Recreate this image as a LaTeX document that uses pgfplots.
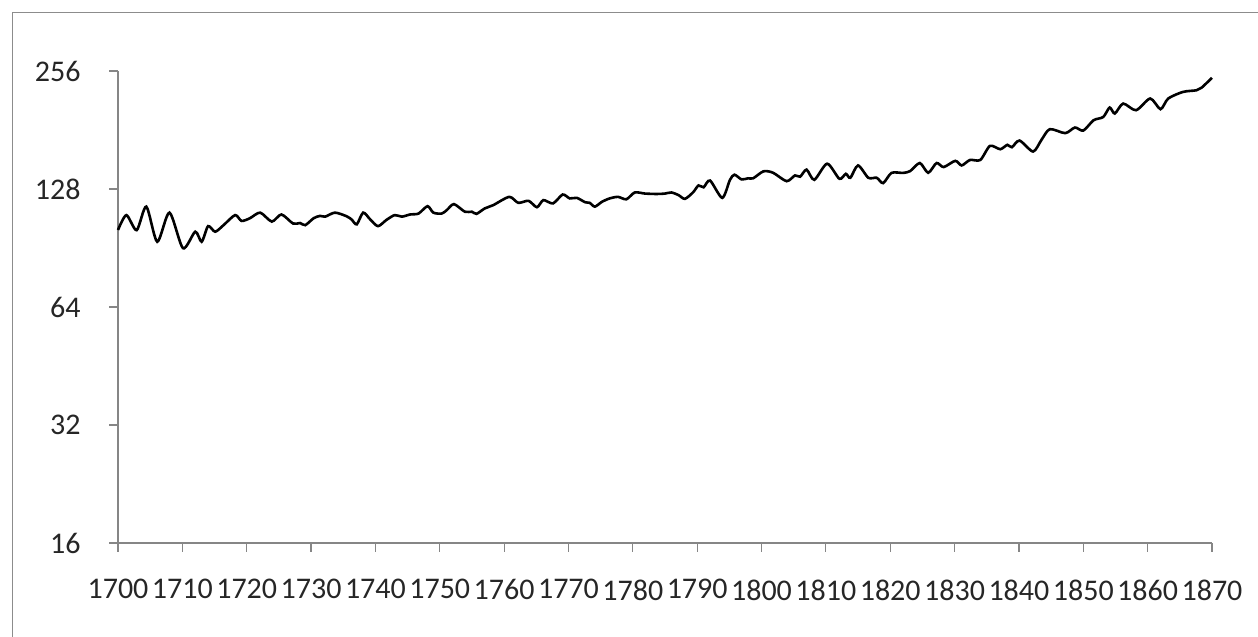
\documentclass[border=0pt]{standalone}
\usepackage{fontspec}
\setmainfont{Carlito}
\usepackage{pgfplots}
\pgfplotsset{compat=1.18}
\definecolor{axisgray}{HTML}{868686}
\definecolor{framegray}{HTML}{8C8C8C}

\pgfplotstableread{
year value
1700 100.6
1701.3 109.8
1702.9 100.5
1704.4 115.4
1706.1 93.9
1708 111.4
1710.1 90.4
1712 99.6
1713 93.9
1714 102.9
1715.1 99.6
1716.4 103.5
1718.2 109.8
1719.2 106.1
1720.5 107.8
1722.1 111.4
1723.9 105.7
1725.4 110.2
1727.2 104.5
1728.3 104.8
1729.1 103.5
1730.4 107.8
1731.4 109.3
1732.2 108.8
1733.7 111.4
1735.5 109.1
1736.3 107
1737.1 104
1738.1 111.4
1739.2 107
1740.4 102.9
1741.7 106.7
1743 109.8
1744.1 108.8
1745.4 110.2
1746.7 110.8
1748.1 115.7
1749 111.4
1750.3 110.8
1751.1 113.1
1752.2 117.1
1753.9 112
1755 112
1755.7 110.6
1757 114.2
1758.3 116.4
1760.8 122.2
1762.2 118
1763.8 119.4
1765.1 115
1766.1 119.9
1767.6 117.6
1769.1 123.9
1770.2 121.1
1771.3 121.5
1772.6 118.4
1773.3 118
1774.1 115.4
1775.2 118.7
1776.4 121.1
1777.7 122.2
1779 120.5
1780.3 125.4
1781.9 124.6
1783.7 124.3
1785 124.6
1786 125.4
1787.1 123.5
1788.1 120.8
1789.4 125.7
1790.2 130.7
1791 129.3
1792 134.5
1793.9 121.5
1795.1 135.1
1795.8 139.2
1796.9 135.4
1797.9 136.3
1798.7 136.3
1800.3 142
1801.8 140.8
1803.9 134
1805.2 138.6
1806 137.6
1807 143.4
1808.2 135.1
1810.2 148.5
1812.1 135.9
1813.1 139.9
1813.8 136.7
1815 147
1816.6 136.7
1817.9 136.7
1818.9 132.5
1820.2 140.7
1822 140.7
1823.1 142.2
1824.6 149.1
1825.9 140.8
1827.2 149.1
1828.3 145.6
1830.1 151
1831.1 147
1832.4 151.8
1834 151.8
1835.5 164.9
1837.1 161.7
1838.2 165.9
1838.9 163.6
1840.1 170.1
1842.2 159.5
1843.5 170.8
1844.8 181.9
1847.2 177.7
1848.7 183.7
1850 180.4
1851.6 191.7
1853.1 195.4
1854.1 206.5
1854.9 199.4
1856.2 211.4
1858.2 203.3
1860.4 217.8
1862 204.6
1863.2 217.8
1865.5 226.4
1867.6 228.6
1868.4 232.2
1870 246
}\series

\begin{document}
\begin{tikzpicture}
\useasboundingbox (0pt,0pt) rectangle (1258pt,637pt);
% outer chart frame (right and bottom edges fall outside the picture)
\draw[framegray, line width=1pt] (12pt,-5pt) -- (12pt,624pt) -- (1265pt,624pt);

\begin{axis}[%
width=1094pt,
height=472pt,
at={(118pt,94pt)},
anchor=south west,
scale only axis,
xmin=1700, xmax=1870,
xtick={1700,1710,...,1870},
ymode=log,
log basis y=2,
ymin=16, ymax=256,
ytick={16,32,64,128,256},
yticklabels={16,32,64,128,256},
axis x line*=bottom,
axis y line*=left,
axis line style={axisgray, line width=1.2pt, -},
tick style={axisgray, line width=1.2pt},
tick align=outside,
major tick length=9pt,
minor tick num=0,
ticklabel style={font=\fontsize{30}{34}\selectfont, text=black!85},
/pgf/number format/assume math mode=true,
/pgf/number format/1000 sep={},
xticklabel style={yshift=-24pt},
yticklabel style={xshift=-25pt},
clip=false
]
\addplot[black, line width=2.6pt, smooth, tension=0.45] table[x=year, y=value] {\series};
\end{axis}
\end{tikzpicture}
\end{document}
